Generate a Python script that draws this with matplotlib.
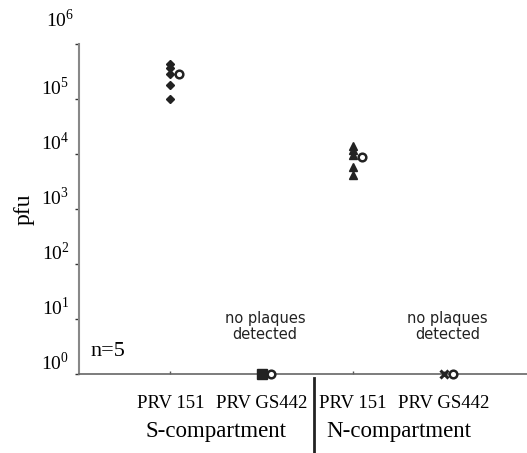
import numpy as np
import matplotlib.pyplot as plt

# (pfu per animal, n=5)
groups = ["PRV 151", "PRV GS442", "PRV 151", "PRV GS442"]
compartments = ["S-compartment", "N-compartment"]
s_prv151 = [4.4e5, 3.6e5, 2.9e5, 1.8e5, 1.0e5]
s_prv151_mean = [2.8e5]
s_gs442 = [1.0]
s_gs442_mean = [1.0]
n_prv151 = [1.4e4, 1.18e4, 9.6e3, 5.8e3, 4.2e3]
n_prv151_mean = [8.9e3]
n_gs442 = [1.0]
n_gs442_mean = [1.0]
decades = [0, 1, 2, 3, 4, 5, 6]

serif = "Liberation Serif"
plt.rcParams["mathtext.fontset"] = "custom"
plt.rcParams["mathtext.rm"] = serif

fig = plt.figure(figsize=(5.27, 4.53), dpi=100)
ax = fig.add_axes([0.150, 0.174, 0.850, 0.729])

xpos = np.arange(1, 5)
off = 0.1
ax.plot([xpos[0]] * len(s_prv151), s_prv151, "D", color="#222222", ms=4.5, clip_on=False)
ax.plot([xpos[0] + off] * len(s_prv151_mean), s_prv151_mean, "o", mfc="white", mec="#222222",
        mew=1.8, ms=5.5, clip_on=False)
ax.plot([xpos[1]] * len(s_gs442), s_gs442, "s", color="#222222", ms=6.5, clip_on=False, zorder=5)
ax.plot([xpos[1] + off] * len(s_gs442_mean), s_gs442_mean, "o", mfc="white", mec="#222222",
        mew=1.8, ms=5.5, clip_on=False, zorder=5)
ax.plot([xpos[2]] * len(n_prv151), n_prv151, "^", color="#222222", ms=6, clip_on=False)
ax.plot([xpos[2] + off] * len(n_prv151_mean), n_prv151_mean, "o", mfc="white", mec="#222222",
        mew=1.8, ms=5.5, clip_on=False)
ax.plot([xpos[3]] * len(n_gs442), n_gs442, "x", color="#222222", ms=5.5, mew=2.2, clip_on=False, zorder=5)
ax.plot([xpos[3] + off] * len(n_gs442_mean), n_gs442_mean, "o", mfc="white", mec="#222222",
        mew=1.8, ms=5.5, clip_on=False, zorder=5)

ax.set_yscale("log")
ax.set_ylim(1, 1e6)
ax.set_xlim(0, 4.91)
ax.minorticks_off()

ax.set_yticks([10.0 ** d for d in decades])
ax.set_yticklabels([r"$10^{%d}$" % d for d in decades[:-1]] + [""], fontsize=14)
for lab in ax.get_yticklabels():
    lab.set_va("bottom")
ax.tick_params(axis="y", length=3, width=1, color="#333333", pad=4)
ax.text(-0.01, 1.04, r"$10^{6}$", transform=ax.transAxes, ha="right", va="bottom", fontsize=14)

ax.set_xticks(xpos)
ax.set_xticklabels(groups, fontfamily=serif, fontsize=13.5)
ax.tick_params(axis="x", direction="in", length=2, width=1, color="#555555", pad=15)

for sp in ["top", "right"]:
    ax.spines[sp].set_visible(False)
ax.spines["left"].set_color("#888888")
ax.spines["left"].set_linewidth(1.5)
ax.spines["bottom"].set_color("#666666")
ax.spines["bottom"].set_linewidth(1.2)

ax.set_ylabel("pfu", fontfamily=serif, fontsize=17)
ax.yaxis.set_label_coords(-0.10, 0.5)

ax.text(0.025, 0.055, "n=5", transform=ax.transAxes, fontfamily=serif, fontsize=16)
for x in [xpos[1], xpos[3]]:
    ax.text(x + 0.04, 0.145, "no plaques\ndetected", transform=ax.get_xaxis_transform(),
            ha="center", va="center", fontsize=10.5, linespacing=1.1, color="#222222")

# compartment labels and separator under the axis
for i, name in enumerate(compartments):
    xc = (xpos[2 * i] + xpos[2 * i + 1]) / 2
    ax.text(xc, -0.175, name, transform=ax.get_xaxis_transform(), ha="center", va="center",
            fontfamily=serif, fontsize=16.5)
ax.plot([2.58, 2.58], [-0.012, -0.25], transform=ax.get_xaxis_transform(), color="#222222",
        lw=2, clip_on=False)

fig.savefig("out.png", dpi=100)
